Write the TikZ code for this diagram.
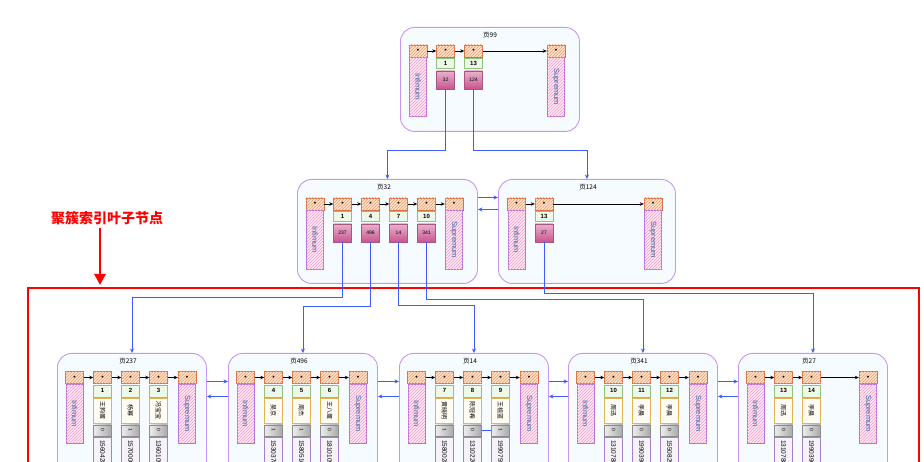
\documentclass[tikz,border=0pt]{standalone}
\usepackage{fontspec}
\setmainfont{Liberation Sans}
\newfontfamily\cjk{Noto Sans CJK SC}
\usetikzlibrary{positioning,patterns,arrows.meta}

\definecolor{pageline}{HTML}{C797F0}
\definecolor{pagefill}{HTML}{F6FBFF}
\definecolor{hdrline}{HTML}{D9703F}
\definecolor{hdrfill}{HTML}{FDE3CF}
\definecolor{hdrhatch}{HTML}{F29B6B}
\definecolor{boundline}{HTML}{B96FE0}
\definecolor{boundfill}{HTML}{FFEAF5}
\definecolor{boundhatch}{HTML}{F39AC8}
\definecolor{boundtext}{HTML}{3A62A0}
\definecolor{keyline}{HTML}{8FC27A}
\definecolor{keyfill}{HTML}{EEF8E8}
\definecolor{ptrline}{HTML}{A8557F}
\definecolor{ptrtop}{HTML}{E9B3CF}
\definecolor{ptrbot}{HTML}{C9558F}
\definecolor{nameline}{HTML}{E3B454}
\definecolor{namefill}{HTML}{FFFCF3}
\definecolor{sexline}{HTML}{8C8C8C}
\definecolor{sexlight}{HTML}{EDEDED}
\definecolor{sexdark}{HTML}{A9A9A9}
\definecolor{phoneline}{HTML}{A582C8}
\definecolor{phonefill}{HTML}{F6F2FA}
\definecolor{linkblue}{HTML}{3F5BFF}

\begin{document}
\begin{tikzpicture}[x=1pt, y=-1pt,
  page/.style={draw=pageline, fill=pagefill, rounded corners=14pt, line width=0.9pt, anchor=north west, inner sep=0pt},
  ptitle/.style={font=\cjk\fontsize{6.5}{7}\selectfont},
  hdr/.style={draw=hdrline, fill=hdrfill, minimum width=18pt, minimum height=12pt, inner sep=0pt, font=\fontsize{7}{7}\selectfont, postaction={pattern=north east lines, pattern color=hdrhatch}},
  bound/.style={rotate=-90, anchor=west, draw=boundline, fill=boundfill, minimum width=59pt, minimum height=17pt, inner sep=0pt, text=boundtext, font=\fontsize{7.5}{7.5}\selectfont, postaction={pattern=north east lines, pattern color=boundhatch}},
  keycell/.style={draw=keyline, fill=keyfill, minimum width=18pt, minimum height=10pt, inner sep=0pt, font=\bfseries\fontsize{6}{6}\selectfont},
  leafkey/.style={keycell, minimum height=12pt},
  ptrcell/.style={draw=ptrline, top color=ptrtop, bottom color=ptrbot, minimum width=18pt, minimum height=18pt, inner sep=0pt, font=\fontsize{5}{5}\selectfont},
  namecell/.style={rotate=-90, anchor=west, draw=nameline, fill=namefill, minimum width=25pt, minimum height=18pt, inner sep=0pt, font=\cjk\fontsize{6}{6}\selectfont},
  sexcell/.style={rotate=-90, anchor=west, draw=sexline, left color=sexlight, right color=sexdark, minimum width=11pt, minimum height=18pt, inner sep=0pt, font=\fontsize{5}{5}\selectfont},
  phonecell/.style={rotate=-90, anchor=west, draw=phoneline, fill=phonefill, minimum height=18pt, text width=58pt, inner xsep=3pt, inner ysep=0pt, align=left, font=\fontsize{6.5}{6.5}\selectfont},
  nextptr/.style={black, line width=0.6pt, -{Stealth[length=4pt, width=3.5pt]}},
  link/.style={draw=linkblue, line width=0.8pt, -{Stealth[length=4.5pt, width=4pt]}}]
\useasboundingbox (0,0) rectangle (924,462);
\clip (0,0) rectangle (924,462);

% leaf area
\node[font=\cjk\bfseries\fontsize{14}{14}\selectfont, text=red] (leaftag) at (107,218) {聚簇索引叶子节点};
\node[draw=red, line width=1.8pt, anchor=north west, minimum width=891pt, minimum height=220pt, inner sep=0pt] (leafzone) at (27,287) {};
\coordinate (tagtip) at (100,285);
\draw[red, line width=2.8pt, -{Triangle[length=11pt, width=11pt]}] (tagtip |- leaftag.south) -- (tagtip);

% root page
\node[page, minimum width=179pt, minimum height=104pt] (p99) at (400,27) {};
\node[ptitle] (p99t) at (490,35) {页99};
\node[hdr] (p99h0) at (418,51) {\textbullet};
\node[bound] (p99inf) at (p99h0.south) {Infimum};
\foreach \k/\ptr [count=\i] in {1/32, 13/124} {
  \node[hdr] (p99h\i) at (417.5+28*\i,51) {\textbullet};
  \node[keycell, below=1pt of p99h\i] (p99k\i) {\k};
  \node[ptrcell, below=2pt of p99k\i] (p99p\i) {\ptr};
}
\node[hdr] (p99h3) at (556,51) {\textbullet};
\node[bound] (p99sup) at (p99h3.south) {Supremum};
\foreach \a/\b in {0/1,1/2,2/3} \draw[nextptr] (p99h\a) -- (p99h\b);

% index page 32
\node[page, minimum width=180pt, minimum height=104pt] (p32) at (297,179) {};
\node[ptitle] (p32t) at (384,187) {页32};
\node[hdr] (p32h0) at (315,204) {\textbullet};
\node[bound] (p32inf) at (p32h0.south) {Infimum};
\foreach \k/\ptr [count=\i] in {1/237, 4/496, 7/14, 10/341} {
  \node[hdr] (p32h\i) at (314.5+28*\i,204) {\textbullet};
  \node[keycell, below=1pt of p32h\i] (p32k\i) {\k};
  \node[ptrcell, below=2pt of p32k\i] (p32p\i) {\ptr};
}
\node[hdr] (p32h5) at (454,204) {\textbullet};
\node[bound] (p32sup) at (p32h5.south) {Supremum};
\foreach \a/\b in {0/1,1/2,2/3,3/4,4/5} \draw[nextptr] (p32h\a) -- (p32h\b);

% index page 124
\node[page, minimum width=177pt, minimum height=104pt] (p124) at (498,179) {};
\node[ptitle] (p124t) at (588,187) {页124};
\node[hdr] (p124h0) at (516.5,204) {\textbullet};
\node[bound] (p124inf) at (p124h0.south) {Infimum};
\node[hdr] (p124h1) at (544,204) {\textbullet};
\node[keycell, below=1pt of p124h1] (p124k1) {13};
\node[ptrcell, below=2pt of p124k1] (p124p1) {27};
\node[hdr] (p124h2) at (653,204) {\textbullet};
\node[bound] (p124sup) at (p124h2.south) {Supremum};
\foreach \a/\b in {0/1,1/2} \draw[nextptr] (p124h\a) -- (p124h\b);

% leaf pages
\foreach \pg/\lx/\n/\recs in {
  237/57/3/{1/王狗蛋/0/15604288888, 2/杨幂/1/15700066666, 3/冯宝宝/0/13601099999},
  496/228/3/{4/吴京/1/15303788888, 5/周杰/1/15805166666, 6/王八蛋/0/18101099999},
  14/399/3/{7/黄晓明/1/15800288888, 8/陈冠希/0/13102266666, 9/王祖蓝/1/19907599999},
  341/568/3/{10/周迅/0/13107888888, 11/李晨/0/19903966666, 12/李晨/0/15508299999},
  27/738/2/{13/周迅/0/13107888888, 14/李晨/0/19903966666}} {
  \node[page, minimum width=149pt, minimum height=170pt] (p\pg) at (\lx,353) {};
  \node[ptitle] (p\pg t) at (\lx+71,361) {页\pg};
  \node[hdr] (p\pg h0) at (\lx+17.5,377.5) {\textbullet};
  \node[bound] (p\pg inf) at (p\pg h0.south) {Infimum};
  \foreach \k/\nm/\sx/\ph [count=\i] in \recs {
    \node[hdr] (p\pg h\i) at (\lx+17.5+28*\i,377.5) {\textbullet};
    \node[leafkey, below=1pt of p\pg h\i] (p\pg k\i) {\k};
    \node[namecell] (p\pg n\i) at ([yshift=-1pt]p\pg k\i.south) {\nm};
    \node[sexcell] (p\pg s\i) at ([yshift=-1pt]p\pg n\i.east) {\sx};
    \node[phonecell] (p\pg c\i) at ([yshift=-1pt]p\pg s\i.east) {\ph};
  }
  \pgfmathtruncatemacro\m{\n+1}
  \node[hdr] (p\pg h\m) at (\lx+130,377.5) {\textbullet};
  \node[bound] (p\pg sup) at (p\pg h\m.south) {Supremum};
  \foreach \a [evaluate=\a as \b using int(\a+1)] in {0,...,\n}
    \draw[nextptr] (p\pg h\a) -- (p\pg h\b);
}

% links between pages
\draw[link] (p99p1.south) -- ++(0,61) -| (p32.north);
\draw[link] (p99p2.south) -- ++(0,61) -| (p124.north);
\draw[link] ([yshift=34pt]p32.east) -- ([yshift=34pt]p124.west);
\draw[link] ([yshift=22pt]p124.west) -- ([yshift=22pt]p32.east);
\draw[link] (p32p1.south) -- ++(0,55) -| (p237.north);
\draw[link] (p32p2.south) -- ++(0,64) -| (p496.north);
\draw[link] (p32p3.south) -- ++(0,63) -| (p14.north);
\draw[link] (p32p4.south) -- ++(0,57) -| (p341.north);
\draw[link] (p124p1.south) -- ++(0,51) -| (p27.north);
\foreach \a/\b in {237/496, 496/14, 14/341, 341/27} {
  \draw[link] ([yshift=57pt]p\a.east) -- ([yshift=57pt]p\b.west);
  \draw[link] ([yshift=42pt]p\b.west) -- ([yshift=42pt]p\a.east);
}
\draw[link, -] (p14s2.north) -- (p14s3.south);
\end{tikzpicture}
\end{document}
